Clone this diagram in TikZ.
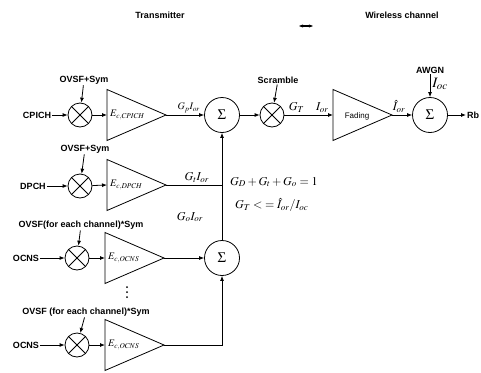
\documentclass[tikz,border=0pt]{standalone}
\usepackage{mathptmx}
\usepackage{fontspec}
\setmainfont{Liberation Sans}
\usetikzlibrary{shapes.geometric,arrows.meta,positioning,calc}

\begin{document}
\begin{tikzpicture}[x=1pt,y=-1pt,
    lbl/.style={font=\fontsize{9}{10}\selectfont\bfseries, inner sep=1pt},
    mult/.style={circle, draw, thick, minimum size=24pt, inner sep=0pt,
        path picture={\draw[thick]
            (path picture bounding box.north west) -- (path picture bounding box.south east)
            (path picture bounding box.south west) -- (path picture bounding box.north east);}},
    summ/.style={circle, draw, thick, minimum size=35pt, inner sep=0pt, font=\Large},
    amp/.style={isosceles triangle, isosceles triangle stretches, draw, thick,
        minimum width=51pt, minimum height=59pt, inner sep=0pt, outer sep=0pt, anchor=west},
    amptext/.style={anchor=west, inner sep=0pt, font=\normalsize},
    gain/.style={font=\normalsize, inner sep=2pt},
    arr/.style={-{Latex[length=5pt,width=4pt]}, thick},
    ln/.style={thick}
]
    \useasboundingbox (0,0) rectangle (481,372);

    % headings
    \node[lbl] (tx) at (160,15) {Transmitter};
    \node[lbl] (wc) at (402,15) {Wireless channel};
    \coordinate (bl) at (299,26);
    \coordinate (br) at (313,26);
    \draw[line width=1.2pt, {Stealth[length=4pt]}-{Stealth[length=4pt]}] (bl) -- (br);

    % CPICH branch
    \node[lbl] (cpich) at (37,115) {CPICH};
    \node[mult] (m1) at (80,115) {};
    \node[lbl] (ovsf1) at (84,80) {OVSF+Sym};
    \node[amp] (a1) at (107,115) {};
    \node[amptext] (e1) at ($(a1.west)+(3,0)$) {$E_{c,CPICH}$};

    % DPCH branch
    \node[lbl] (dpch) at (33,186) {DPCH};
    \node[mult] (m2) at (80,186) {};
    \node[lbl] (ovsf2) at (85,149) {OVSF+Sym};
    \node[amp] (a2) at (107,185) {};
    \node[amptext] (e2) at ($(a2.west)+(3,0)$) {$E_{c,DPCH}$};

    % OCNS branches
    \node[lbl] (ocns1) at (26,258) {OCNS};
    \node[mult] (m3) at (77,258) {};
    \node[lbl] (ovsf3) at (81,225) {OVSF(for each channel)*Sym};
    \node[amp] (a3) at (105,258) {};
    \node[amptext] (e3) at ($(a3.west)+(3,0)$) {$E_{c,OCNS}$};
    \foreach \dy in {287,292,297}
        \fill (127,\dy) circle (1pt);
    \node[lbl] (ocns2) at (26,345) {OCNS};
    \node[mult] (m4) at (77,345) {};
    \node[lbl] (ovsf4) at (86,312) {OVSF (for each channel)*Sym};
    \node[amp] (a4) at (105,345) {};
    \node[amptext] (e4) at ($(a4.west)+(3,0)$) {$E_{c,OCNS}$};

    % summers, scrambling, channel
    \node[summ] (s1) at (222,115) {$\Sigma$};
    \node[summ] (s3) at (222,258) {$\Sigma$};
    \coordinate (j) at (s1 |- a2.apex);
    \node[mult] (m5) at (272,115) {};
    \node[lbl] (scr) at (278,80) {Scramble};
    \node[amp] (fad) at (333,115) {};
    \node[font=\fontsize{8}{9}\selectfont] (fadtext) at ($(fad.west)+(24,1)$) {Fading};
    \node[summ] (s2) at (430,115) {$\Sigma$};
    \node[lbl] (awgn) at (430,70) {AWGN};
    \node[lbl, anchor=west] (rb) at (466,115) {Rb};

    \node[gain, anchor=west, font=\large] (eq1) at (228,182) {$G_D + G_t + G_o = 1$};
    \node[gain, anchor=west, font=\large] (eq2) at (233,205) {$G_T \mathrel{<}\;\mathrel{=} \hat{I}_{or} / I_{oc}$};

    % connectors
    \draw[arr] (cpich) -- (m1);
    \draw[arr] (ovsf1) -- (m1);
    \draw[arr] (m1) -- (a1.west);
    \draw[arr] (a1.apex) -- node[gain, above, pos=0.6] {$G_p I_{or}$} (s1);

    \draw[arr] (dpch) -- (m2);
    \draw[arr] (ovsf2) -- (m2);
    \draw[arr] (m2) -- (a2.west);
    \draw[ln] (a2.apex) -- node[gain, above, pos=0.55, font=\large] {$G_t I_{or}$} (j);
    \draw[arr] (j) -- (s1);
    \draw[ln] (s3) -- (j);
    \node[gain, font=\large] (go) at (190,217) {$G_o I_{or}$};

    \draw[arr] (ocns1) -- (m3);
    \draw[arr] (ovsf3) -- (m3);
    \draw[arr] (m3) -- (a3.west);
    \draw[arr] (a3.apex) -- (s3);

    \draw[arr] (ocns2) -- (m4);
    \draw[arr] (ovsf4) -- (m4);
    \draw[arr] (m4) -- (a4.west);
    \draw[arr] (a4.apex) -| (s3);

    \draw[arr] (s1) -- (m5);
    \draw[arr] (scr) -- (m5);
    \draw[arr] (m5) -- node[gain, above, font=\large] {$G_T\quad I_{or}$} (fad.west);
    \draw[arr] (fad.apex) -- node[gain, above, font=\large, pos=0.35] {$\hat{I}_{or}$} (s2);
    \draw[arr] (awgn) -- node[gain, right, font=\Large, pos=0.4] {$I_{oc}$} (s2);
    \draw[arr] (s2) -- (rb);
\end{tikzpicture}
\end{document}
